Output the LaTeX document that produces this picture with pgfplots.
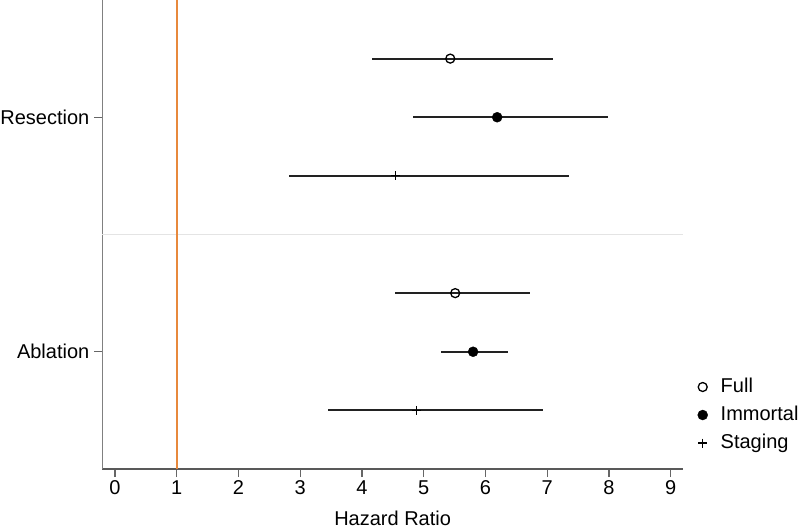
\documentclass[border=0pt]{standalone}
\usepackage{pgfplots}
\usepackage{pgfplotstable}
\pgfplotsset{compat=1.18}
\usepackage{fontspec}
\setmainfont{Liberation Sans}
\definecolor{refline}{HTML}{E8893C}
\definecolor{sepline}{HTML}{E4E4E4}
\definecolor{cibar}{HTML}{222222}

% x = hazard ratio, y = row position, lo/hi = confidence interval
\pgfplotstableread{
x    y    lo   hi
5.43 2.25 4.16 7.09
5.51 1.25 4.53 6.72
}\fulltab
\pgfplotstableread{
x    y    lo   hi
6.19 2.00 4.82 7.98
5.80 1.00 5.28 6.37
}\immtab
\pgfplotstableread{
x    y    lo   hi
4.54 1.75 2.81 7.36
4.88 0.75 3.45 6.93
}\stagetab

\newcommand{\fs}{\fontsize{20bp}{24bp}\selectfont}

\begin{document}
\begin{tikzpicture}
\begin{axis}[
    scale only axis,
    width=580.7bp, height=469bp,
    xmin=-0.206, xmax=9.2,
    ymin=0.5, ymax=2.5,
    axis lines*=left,
    axis line style={-},
    x axis line style={color=black!65, line width=1.3bp},
    y axis line style={color=black!50, line width=1.3bp},
    xtick={0,1,...,9},
    ytick={1,2},
    yticklabels={Ablation,Resection},
    tick align=outside,
    major tick length=8bp,
    tick style={color=black!60, line width=1.2bp},
    /pgf/number format/assume math mode=true,
    ticklabel style={font=\fs},
    yticklabel style={xshift=-1.5bp},
    xlabel={Hazard Ratio},
    xlabel style={font=\fs, at={(axis description cs:0.5,0)}, anchor=base, yshift=-56bp},
    clip=false,
    legend style={at={(axis description cs:1.025,0.1151)}, anchor=west,
        draw=none, fill=none, inner sep=0pt, row sep=10bp, column sep=13bp,
        font=\fs, cells={anchor=west},
        nodes={text height=14bp, text depth=4bp, inner sep=0bp}},
    legend image code/.code={\draw[#1] plot coordinates {(0cm,0cm)};},
    error bars/error bar style={line width=2bp, color=cibar},
]
\addplot[forget plot, color=sepline, line width=1bp] coordinates {(-0.206,1.5) (9.2,1.5)};
\addplot[forget plot, color=refline, line width=2bp] coordinates {(1,0.5) (1,2.5)};

\addplot[only marks, black, mark=o, mark size=4.5bp, line width=1.3bp,
    error bars/.cd, x dir=both, x explicit, error mark=none]
    table[x=x, y=y, x error plus expr=\thisrow{hi}-\thisrow{x},
          x error minus expr=\thisrow{x}-\thisrow{lo}] {\fulltab};
\addplot[only marks, black, mark=*, mark size=5bp,
    error bars/.cd, x dir=both, x explicit, error mark=none]
    table[x=x, y=y, x error plus expr=\thisrow{hi}-\thisrow{x},
          x error minus expr=\thisrow{x}-\thisrow{lo}] {\immtab};
\addplot[only marks, black, mark=+, mark size=4.5bp, line width=1.2bp,
    error bars/.cd, x dir=both, x explicit, error mark=none]
    table[x=x, y=y, x error plus expr=\thisrow{hi}-\thisrow{x},
          x error minus expr=\thisrow{x}-\thisrow{lo}] {\stagetab};
\legend{Full,Immortal,Staging}
\end{axis}
\pgfresetboundingbox
\path (-102.3bp,-61bp) rectangle (697.7bp,469bp);
\end{tikzpicture}
\end{document}
